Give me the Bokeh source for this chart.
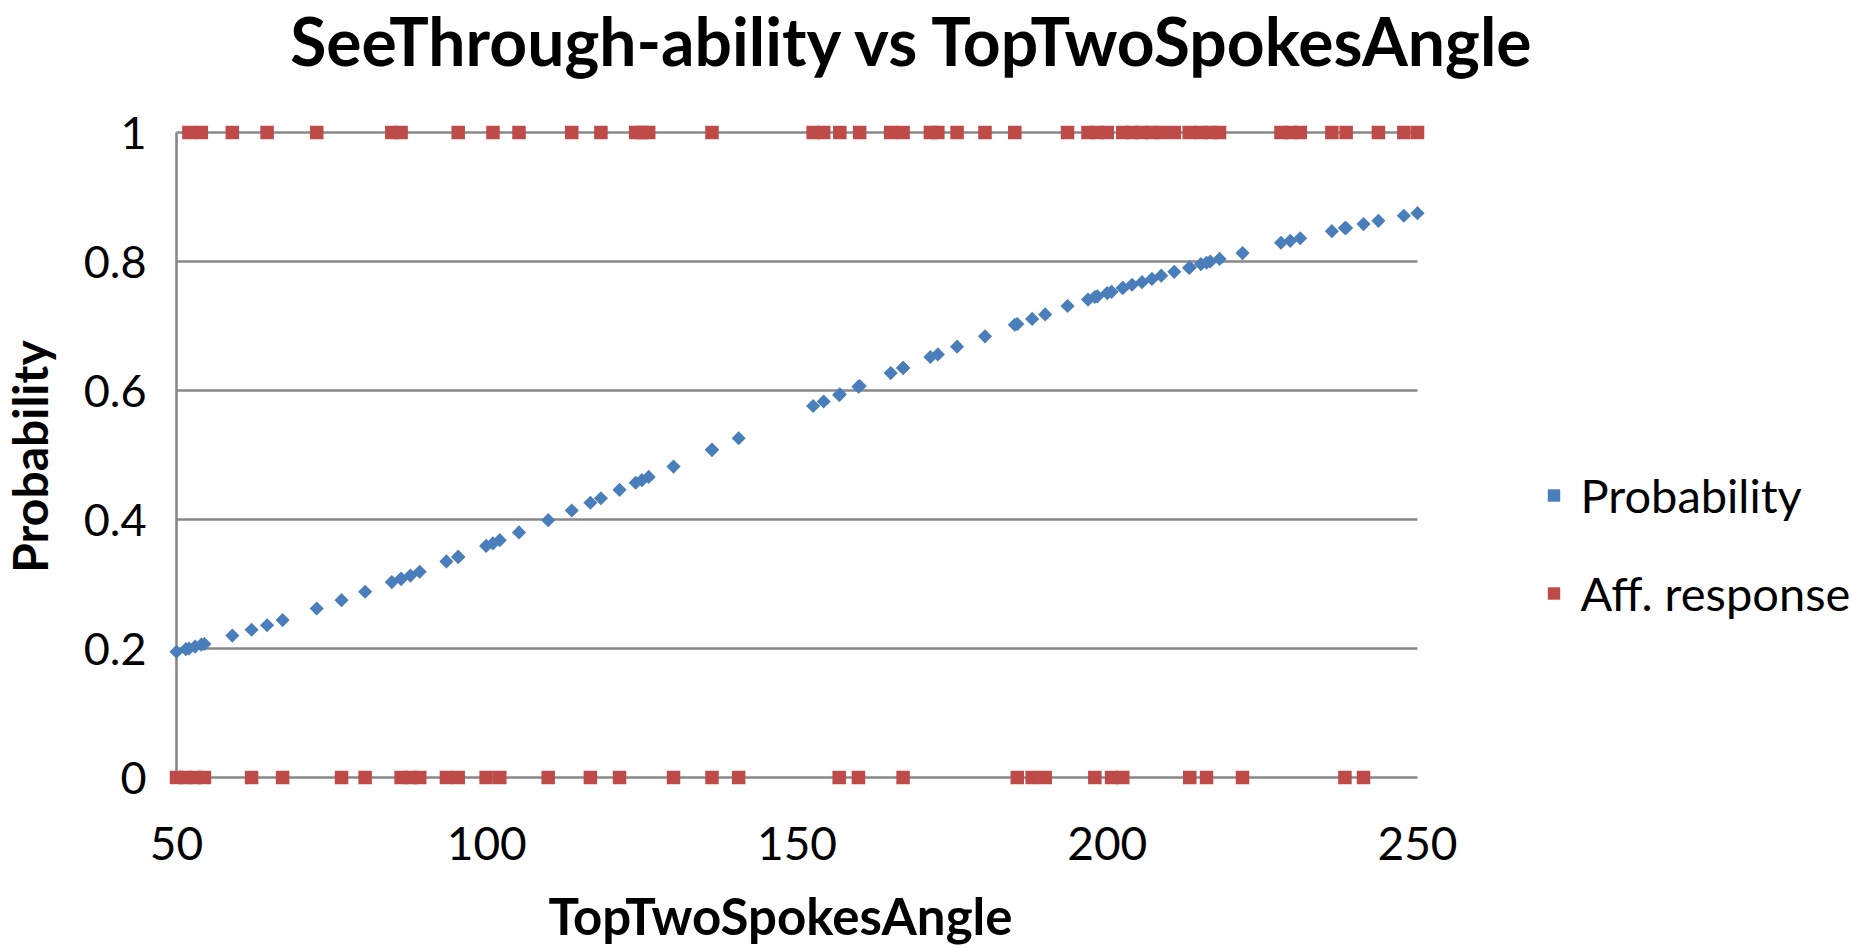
import numpy as np
from bokeh.plotting import figure
from bokeh.models import Range1d, Legend, LegendItem, Label, ColumnDataSource
from bokeh.core.properties import value
from bokeh.embed import file_html
from bokeh.resources import INLINE

# ---------------- data ----------------
title_text = "SeeThrough-ability vs TopTwoSpokesAngle"
x_title = "TopTwoSpokesAngle"
y_title = "Probability"
series_names = ["Probability", "Aff. response"]

# angles of cases with an affirmative response (1)
angle_yes = [52, 54, 59, 64.6, 72.6, 84.7, 86.2, 95.4, 101, 105.2,
             113.7, 118.4, 124, 125, 126.1, 136.3, 152.6, 154.3, 156.9, 160.1,
             165.1, 167.1, 171.5, 172.7, 175.8, 180.3, 185.1, 193.6, 196.9, 198.4,
             200, 202.5, 204, 205.6, 207.2, 208.7, 210.8, 213.2, 215.1, 216.6,
             218.1, 228, 229.5, 231.1, 236.2, 238.5, 243.7, 247.8, 250]
prob_yes = [0.200, 0.206, 0.220, 0.236, 0.262, 0.303, 0.308, 0.342, 0.363, 0.380,
            0.414, 0.433, 0.457, 0.461, 0.466, 0.508, 0.576, 0.583, 0.594, 0.607,
            0.627, 0.635, 0.652, 0.656, 0.668, 0.684, 0.702, 0.731, 0.741, 0.746,
            0.751, 0.759, 0.764, 0.768, 0.773, 0.778, 0.784, 0.790, 0.796, 0.800,
            0.804, 0.829, 0.832, 0.836, 0.847, 0.852, 0.863, 0.871, 0.875]

# angles of cases with a negative response (0)
angle_no = [50, 51.5, 53, 54.5, 62.1, 67.1, 76.6, 80.4, 86.2, 87.7,
            89.2, 93.5, 95.4, 99.9, 102.1, 109.9, 116.7, 121.4, 130.1, 136.3,
            140.6, 156.8, 159.9, 167.1, 185.5, 187.9, 190, 198, 200.7, 202.5,
            213.3, 216, 221.8, 238.3, 241.3]
prob_no = [0.195, 0.199, 0.203, 0.207, 0.229, 0.244, 0.275, 0.288, 0.308, 0.313,
           0.319, 0.335, 0.342, 0.359, 0.368, 0.399, 0.426, 0.446, 0.482, 0.508,
           0.526, 0.593, 0.606, 0.635, 0.703, 0.711, 0.718, 0.745, 0.753, 0.759,
           0.791, 0.798, 0.813, 0.852, 0.858]

response_yes = [1] * len(angle_yes)
response_no = [0] * len(angle_no)

x_ticks = [50, 100, 150, 200, 250]
x_tick_labels = ["50", "100", "150", "200", "250"]
y_ticks = [0, 0.2, 0.4, 0.6, 0.8, 1]
y_tick_labels = ["0", "0.2", "0.4", "0.6", "0.8", "1"]

# ---------------- layout (pixels) ----------------
W, H = 1852, 946
PX_X0, PX_X1 = 176.0, 1417.0     # pixel of x = 50 and x = 250
PX_Y1, PX_Y0 = 132.0, 777.0      # pixel of y = 1 and y = 0

sx = (PX_X1 - PX_X0) / (x_ticks[-1] - x_ticks[0])
sy = (PX_Y0 - PX_Y1) / (y_ticks[-1] - y_ticks[0])
x_start = x_ticks[0] - PX_X0 / sx
x_end = x_start + W / sx
y_end = y_ticks[-1] + PX_Y1 / sy
y_start = y_ticks[0] - (H - PX_Y0) / sy

BLUE = "#4A7EBB"
RED = "#BE4B48"
GRID = "#888888"
FONT = "Lato"

prob_src = ColumnDataSource(dict(x=angle_yes + angle_no, y=prob_yes + prob_no))
yes_src = ColumnDataSource(dict(x=angle_yes, y=response_yes))
no_src = ColumnDataSource(dict(x=angle_no, y=response_no))

p = figure(width=W, height=H,
           x_range=Range1d(x_start, x_end), y_range=Range1d(y_start, y_end),
           output_backend="svg", toolbar_location=None,
           min_border=0, min_border_left=0, min_border_right=0,
           min_border_top=0, min_border_bottom=0)
p.title.visible = False
p.outline_line_color = None
p.background_fill_color = "white"
p.border_fill_color = "white"
p.xaxis.visible = False
p.yaxis.visible = False
p.xgrid.visible = False
p.ygrid.visible = False

# Excel-style horizontal gridlines and vertical value axis, limited to the data area
n = len(y_ticks)
p.segment(x0=[x_ticks[0]] * n, x1=[x_ticks[-1]] * n, y0=y_ticks, y1=y_ticks,
          line_color=GRID, line_width=2.6)
p.segment(x0=[x_ticks[0]], x1=[x_ticks[0]], y0=[y_ticks[0]], y1=[y_ticks[-1]],
          line_color=GRID, line_width=2.6)

# tick labels
p.text(x=x_ticks, y=[y_ticks[0]] * len(x_ticks), text=x_tick_labels,
       y_offset=66, text_align="center", text_baseline="middle",
       text_font=value(FONT), text_font_size=value("46px"), text_color="black")
p.text(x=[x_ticks[0]] * len(y_ticks), y=y_ticks, text=y_tick_labels,
       x_offset=-30, text_align="right", text_baseline="middle",
       text_font=value(FONT), text_font_size=value("45px"), text_color="black")

r_prob = p.scatter("x", "y", source=prob_src, marker="square", angle=np.pi / 4,
                   size=10, fill_color=BLUE, line_color=None)
r_no = p.scatter("x", "y", source=no_src, marker="square", size=13.5,
                 fill_color=RED, line_color=None)
r_yes = p.scatter("x", "y", source=yes_src, marker="square", size=13.5,
                  fill_color=RED, line_color=None)

GW = 31
legend = Legend(items=[LegendItem(label=series_names[0], renderers=[r_prob]),
                       LegendItem(label=series_names[1], renderers=[r_yes])],
                location=(1553 - GW / 2, H - 622))
legend.border_line_color = None
legend.background_fill_alpha = 0
legend.padding = 0
legend.margin = 0
legend.spacing = 40
legend.glyph_width = GW
legend.glyph_height = 58
legend.label_height = 58
legend.label_standoff = 12
legend.label_text_font = FONT
legend.label_text_font_size = "47px"
legend.label_text_color = "black"
p.add_layout(legend)

p.add_layout(Label(x=913, y=H - 40, x_units="screen", y_units="screen", text=title_text,
                   text_align="center", text_baseline="middle", text_font=FONT,
                   text_font_style="bold", text_font_size="66px", text_color="black"))
p.add_layout(Label(x=780, y=H - 915, x_units="screen", y_units="screen", text=x_title,
                   text_align="center", text_baseline="middle", text_font=FONT,
                   text_font_style="bold", text_font_size="51px", text_color="black"))
p.add_layout(Label(x=29, y=H - 456, x_units="screen", y_units="screen", text=y_title,
                   angle=np.pi / 2, text_align="center", text_baseline="middle",
                   text_font=FONT, text_font_style="bold", text_font_size="48px",
                   text_color="black"))

open("out.html", "w").write(file_html(p, INLINE))
